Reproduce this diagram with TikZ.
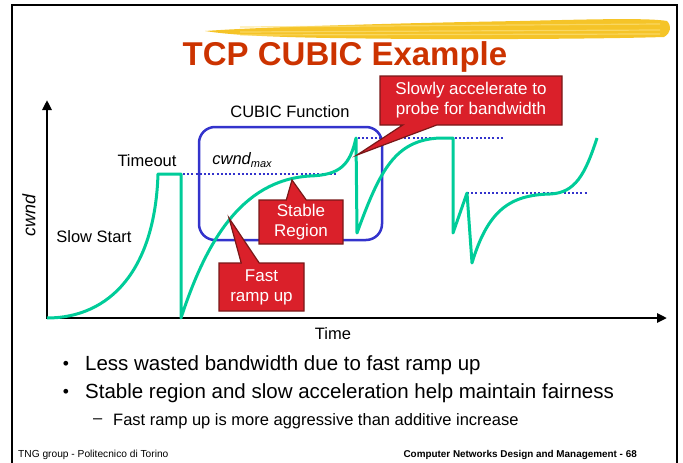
\documentclass[tikz,border=0pt]{standalone}
\usepackage{fontspec}
\setmainfont{Liberation Sans}
\setsansfont{Liberation Sans}
\usetikzlibrary{positioning}
\usetikzlibrary{arrows.meta}
\usetikzlibrary{shapes.callouts}

\definecolor{titlered}{RGB}{204,51,0}
\definecolor{cwndgreen}{RGB}{0,204,153}
\definecolor{cubicblue}{RGB}{51,51,204}
\definecolor{boxred}{RGB}{218,32,42}
\definecolor{boxedge}{RGB}{120,24,24}
\definecolor{brushyellow}{RGB}{245,196,40}
\definecolor{brushlight}{RGB}{252,224,120}

\begin{document}
\begin{tikzpicture}[
  x=1pt, y=-1pt,
  label/.style={inner sep=0pt, font=\fontsize{16.5}{18}\selectfont},
  bulletline/.style={anchor=west, inner sep=0pt, font=\fontsize{20.5}{24}\selectfont},
  bulletdot/.style={inner sep=0pt, font=\fontsize{17.5}{19}\selectfont},
  subline/.style={anchor=west, inner sep=0pt, font=\fontsize{16.5}{20}\selectfont},
  footer/.style={inner sep=0pt, font=\fontsize{10.2}{12}\selectfont},
  callbox/.style={rectangle callout, draw=boxedge, fill=boxred, text=white,
    line width=1.2pt, align=center, inner sep=2pt,
    font=\fontsize{17}{20}\selectfont},
  curve/.style={cwndgreen, line width=3pt, line join=round},
  cmax/.style={cubicblue, line width=2pt, dash pattern=on 2pt off 2.2pt},
  axis/.style={line width=2.8pt,
    {Triangle[length=10pt,width=9pt]}-{Triangle[length=10pt,width=9pt]}},
]
\useasboundingbox (0,0) rectangle (683,463);

\draw[line width=2pt] (12,470) -- (12,5) -- (677,5) -- (677,470);

\fill[brushyellow]
  (205,31) .. controls (260,27) and (400,23) .. (520,21)
  .. controls (600,19) and (650,18) .. (667,21)
  .. controls (672,26) and (671,33) .. (664,37)
  .. controls (600,39) and (450,40) .. (330,38)
  .. controls (270,37) and (230,35) .. (205,31) -- cycle;
\foreach \ya/\yb in {27/24, 32/30, 35/34} {
  \draw[brushlight, line width=1.2pt, opacity=0.7] (240,\ya) -- (660,\yb);
}

\node (title) at (345,57) {\fontsize{33}{36}\selectfont\bfseries\color{titlered}TCP CUBIC Example};

\draw[axis] (47,100) -- (47,318) -- (667,318);

\draw[cubicblue, line width=2.5pt, rounded corners=16pt] (199,127) rectangle (382,240);

\foreach \ya/\xa/\xb in {174/183/337, 138/358/504, 193/467/587} {
  \draw[cmax] (\xa,\ya) -- (\xb,\ya);
}

\draw[curve]
  (47,318) .. controls (110,318) and (155,270) .. (158,174)
  -- (181,174) -- (181,318)
  .. controls (205,245) and (240,180) .. (310,176)
  .. controls (340,175) and (350,165) .. (356,138)
  -- (357,233)
  .. controls (380,170) and (395,140) .. (440,138)
  -- (453,138) -- (453,233) -- (467,193) -- (472,263)
  .. controls (488,210) and (510,195) .. (550,194)
  .. controls (575,193) and (585,175) .. (597,138);

\node (probe) [callbox, minimum width=182pt, minimum height=49pt,
  callout absolute pointer={(357,155)}, callout pointer width=34pt]
  at (471,100.5) {Slowly accelerate to\\probe for bandwidth};
\node (stable) [callbox, minimum width=84pt, minimum height=44pt,
  callout absolute pointer={(292,180)}, callout pointer width=20pt]
  at (301,222) {Stable\\Region};
\node (fast) [callbox, minimum width=85pt, minimum height=48pt,
  callout absolute pointer={(229,218)}, callout pointer width=18pt]
  at (261.5,287) {Fast\\ramp up};

\node (cwnd) [label, rotate=90, font=\fontsize{18}{20}\selectfont\itshape] at (29,215) {cwnd};
\node (slow) [label] at (94,237) {Slow Start};
\node (timeout) [label] at (147,161) {Timeout};
\node (cubic) [label] at (290,112) {CUBIC Function};
\node (wmax) [label, font=\fontsize{16.5}{18}\selectfont\itshape] at (242,160)
  {cwnd\raisebox{-0.35ex}{\fontsize{11}{12}\selectfont max}};
\node (time) [label] at (333,334) {Time};

\node (dot1) [bulletdot] at (66,365) {\textbullet};
\node (less) [bulletline] at (85,365) {Less wasted bandwidth due to fast ramp up};
\node (dot2) [bulletdot] at (66,393) {\textbullet};
\node (fair) [bulletline] at (85,393) {Stable region and slow acceleration help maintain fairness};
\node (dash) [subline] at (93,421) {--};
\node (aggr) [subline] at (113,421) {Fast ramp up is more aggressive than additive increase};

\node (group) [footer, anchor=west] at (18,455) {TNG group - Politecnico di Torino};
\node (course) [footer, anchor=east, font=\fontsize{9.9}{12}\selectfont\bfseries] at (637,455)
  {Computer Networks Design and Management - 68};

\end{tikzpicture}
\end{document}
